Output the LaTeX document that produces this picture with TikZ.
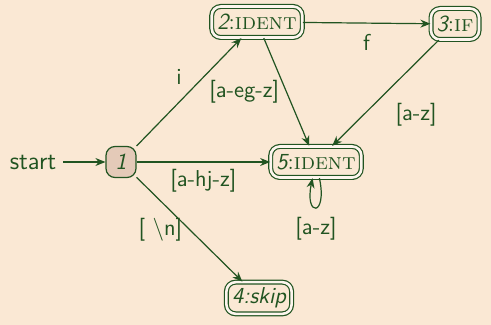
\documentclass[tikz,border=0pt]{standalone}
\usepackage{tikz}
\usetikzlibrary{arrows.meta,positioning}
\definecolor{pagebg}{RGB}{250,232,212}
\definecolor{darkgreen}{RGB}{33,84,33}
\definecolor{startfill}{RGB}{228,202,184}
\begin{document}
\begin{tikzpicture}[x=0.5pt,y=-0.5pt,
  font=\sffamily\fontsize{11.5}{13}\selectfont, text=darkgreen,
  state/.style={draw=darkgreen, rounded corners=4.5pt, minimum height=15.5pt,
    inner sep=2.8pt, line width=0.6pt},
  accept/.style={state, double=pagebg!40!white, double distance=1.3pt},
  trans/.style={draw=darkgreen, line width=0.6pt,
    -{Stealth[length=5pt,width=4pt]}}]
\fill[pagebg] (0,0) rectangle (491,325);
\useasboundingbox (0,0) rectangle (491,325);

% States
\node[state, fill=startfill, minimum width=15pt] (n1) at (121,162) {\itshape 1};
\node[accept] (n2) at (257,22) {{\itshape 2}{\rmfamily:\textsc{ident}}};
\node[accept] (n3) at (455,24) {{\itshape 3}{\rmfamily:\textsc{if}}};
\node[accept] (n5) at (316,162) {{\itshape 5}{\rmfamily:\textsc{ident}}};
\node[accept] (n4) at (259,298) {\itshape 4:skip};
\node[font=\sffamily\fontsize{12.5}{14}\selectfont] (start) at (33,162) {start};

% Transitions
\draw[trans] (start) -- (n1);
\draw[trans] (n1) -- node[above left] {i} (n2);
\draw[trans] (n1) -- node[below] {[a-hj-z]} (n5);
\draw[trans] (n1) -- node[left] {[\ \textbackslash n]} (n4);
\draw[trans] (n2) -- node[below=2pt] {f} (n3);
\draw[trans] (n2) -- node[left] {[a-eg-z]} (n5);
\draw[trans] (n3) -- node[below right=2pt] {[a-z]} (n5);
\draw[trans] (n5) to[loop, out=-78, in=-102, min distance=20pt]
  node[below=1.5pt] {[a-z]} (n5);
\end{tikzpicture}
\end{document}
